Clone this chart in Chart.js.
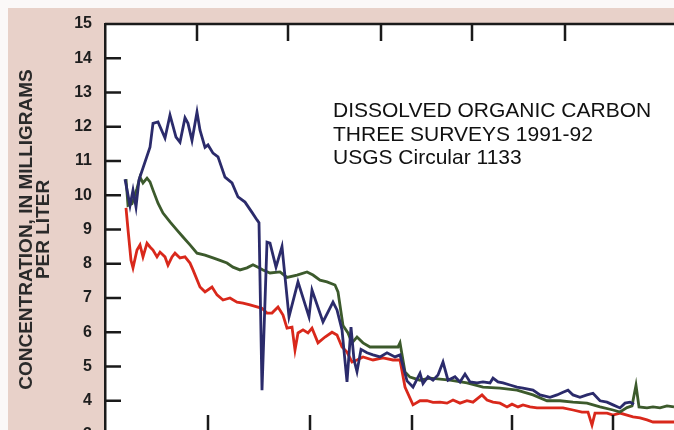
<!DOCTYPE html>
<html>
<head>
<meta charset="utf-8">
<script src="https://cdn.jsdelivr.net/npm/chart.js@4.4.1/dist/chart.umd.min.js"></script>
<style>
  html, body { margin: 0; padding: 0; background: #fff; }
  #wrap { width: 674px; height: 430px; overflow: hidden; position: relative; }
  canvas { display: block; }
</style>
</head>
<body>
<div id="wrap"><canvas id="doc" width="674" height="460"></canvas></div>
<script>
// distance along the river (arbitrary units, left edge = 0) and DOC values in mg/L
const blueX = [20, 25, 28, 31, 34, 45, 48, 53, 60, 65, 71, 75, 80, 83, 87, 92, 95, 100, 103, 108, 113, 120, 127, 133, 140, 147, 152, 154,
  157, 162, 165, 171, 177, 184, 193, 204, 207, 218, 228, 232, 237, 242, 246, 249, 252, 256, 262, 268, 275, 282, 290, 295,
  302, 308, 315, 318, 323, 328, 333, 338, 343, 350, 355, 360, 365, 372, 378, 385, 388, 393, 398, 405, 412, 418, 428, 435,
  445, 452, 458, 463, 468, 475, 482, 488, 495, 502, 508, 515, 520, 525, 529];
const blueY = [10.47, 9.7, 10.15, 9.66, 10.45, 11.4, 12.1, 12.14, 11.67, 12.34, 11.7, 11.55, 12.26, 12.1, 11.6, 12.43, 11.9, 11.4, 11.47, 11.23, 11.12, 10.53, 10.36, 9.95, 9.8, 9.5, 9.28, 9.2,
  4.31, 8.63, 8.6, 7.9, 8.5, 6.45, 7.47, 6.45, 7.23, 6.3, 6.88, 6.65, 6.07, 4.55, 6.15, 5.2, 4.85, 5.5, 5.4, 5.34, 5.28, 5.4, 5.28, 5.34,
  4.58, 4.4, 4.8, 4.5, 4.7, 4.6, 4.75, 5.13, 4.6, 4.7, 4.55, 4.78, 4.55, 4.52, 4.55, 4.52, 4.66, 4.55, 4.52, 4.46, 4.4, 4.37, 4.31, 4.17,
  4.1, 4.17, 4.25, 4.31, 4.17, 4.1, 4.17, 4.22, 4.0, 3.96, 3.88, 3.79, 3.93, 3.96, 3.9];

const greenX = [21, 23, 27, 32, 35, 38, 42, 45, 48, 53, 58, 65, 72, 78, 85, 92, 100, 108, 115, 122, 128, 135, 142, 148, 153, 158,
  165, 175, 182, 192, 202, 208, 215, 222, 230, 233, 238, 243, 247, 252, 258, 265, 272, 282, 293, 295, 300, 305, 315, 325,
  345, 362, 378, 395, 412, 428, 442, 455, 468, 482, 495, 508, 515, 522, 527, 531, 534, 542, 548, 555, 562, 569];
const greenY = [10.47, 9.7, 9.75, 10.2, 10.53, 10.36, 10.5, 10.39, 10.15, 9.77, 9.48, 9.22, 8.98, 8.78, 8.55, 8.31, 8.25, 8.17, 8.1, 8.02, 7.9, 7.82, 7.88, 7.97, 7.9, 7.82,
  7.73, 7.76, 7.6, 7.67, 7.76, 7.67, 7.52, 7.47, 7.38, 7.18, 6.2, 5.98, 5.69, 5.86, 5.69, 5.57, 5.57, 5.57, 5.57, 5.69, 4.84, 4.69, 4.6, 4.66,
  4.6, 4.52, 4.4, 4.37, 4.31, 4.17, 4.0, 4.0, 3.96, 3.93, 3.82, 3.73, 3.67, 3.8, 3.85, 4.45, 3.82, 3.79, 3.82, 3.79, 3.85, 3.82];

const redX = [21, 23, 26, 28, 32, 35, 38, 42, 45, 48, 52, 55, 60, 63, 67, 70, 75, 80, 85, 88, 95, 100, 107, 112, 118, 125, 132, 138,
  145, 152, 157, 162, 167, 173, 178, 182, 187, 190, 193, 198, 203, 207, 213, 220, 227, 232, 237, 242, 247, 252, 258, 268,
  278, 288, 295, 300, 308, 315, 322, 328, 335, 342, 348, 355, 362, 368, 377, 382, 388, 395, 402, 407, 413, 418, 425, 432,
  448, 458, 468, 477, 483, 487, 490, 495, 502, 508, 515, 522, 528, 535, 542, 548, 569];
const redY = [9.63, 9.0, 8.1, 7.88, 8.4, 8.55, 8.2, 8.6, 8.49, 8.4, 8.2, 8.34, 8.2, 7.96, 8.2, 8.31, 8.17, 8.2, 8.02, 7.82, 7.32, 7.18, 7.32, 7.09, 6.94, 7.0, 6.88, 6.85,
  6.8, 6.74, 6.7, 6.56, 6.56, 6.74, 6.5, 6.12, 6.15, 5.48, 5.98, 6.07, 5.98, 6.12, 5.69, 5.86, 6.0, 5.92, 5.57, 5.42, 5.13, 5.19, 5.28, 5.19,
  5.25, 5.19, 5.19, 4.4, 3.88, 4.0, 4.0, 3.95, 3.96, 3.93, 4.02, 3.93, 4.0, 3.96, 4.17, 4.02, 3.96, 3.93, 3.82, 3.9, 3.82, 3.88, 3.82, 3.79,
  3.79, 3.79, 3.73, 3.67, 3.67, 3.29, 3.64, 3.64, 3.64, 3.58, 3.64, 3.58, 3.53, 3.5, 3.44, 3.38, 3.38];

const yTicks = [3, 4, 5, 6, 7, 8, 9, 10, 11, 12, 13, 14, 15];
const bottomTicks = [103, 205, 307, 407, 508];
const topTicks = [92, 183, 276, 367, 460];
const noteLines = ['DISSOLVED ORGANIC CARBON', 'THREE SURVEYS 1991-92', 'USGS Circular 1133'];

function pts(xs, ys) {
  return xs.map((x, i) => ({ x: x, y: ys[i] }));
}

const pink = '#e8d1c9';

const paperPlugin = {
  id: 'paper',
  beforeDraw(chart) {
    const { ctx, chartArea: a } = chart;
    ctx.save();
    ctx.fillStyle = '#fbf8f8';
    ctx.fillRect(0, 0, chart.width, chart.height);
    ctx.fillStyle = pink;
    ctx.fillRect(8, 8, chart.width - 8, chart.height - 8);
    ctx.fillStyle = '#ffffff';
    ctx.fillRect(a.left, a.top, a.right - a.left, a.bottom - a.top);
    ctx.restore();
  },
  afterDraw(chart) {
    const { ctx, chartArea: a } = chart;
    const xs = chart.scales.x, ys = chart.scales.y;
    ctx.save();
    ctx.strokeStyle = '#1a1a1a';
    ctx.lineWidth = 2.5;
    ctx.beginPath();
    // top and bottom axis lines
    ctx.moveTo(a.left, a.top); ctx.lineTo(a.right, a.top);
    ctx.moveTo(a.left, a.bottom); ctx.lineTo(a.right, a.bottom);
    // inward ticks
    yTicks.forEach(v => {
      const y = ys.getPixelForValue(v);
      ctx.moveTo(a.left, y); ctx.lineTo(a.left + 16, y);
    });
    topTicks.forEach(v => {
      const x = xs.getPixelForValue(v);
      ctx.moveTo(x, a.top); ctx.lineTo(x, a.top + 17);
    });
    bottomTicks.forEach(v => {
      const x = xs.getPixelForValue(v);
      ctx.moveTo(x, a.bottom); ctx.lineTo(x, a.bottom - 20);
    });
    ctx.stroke();

    ctx.fillStyle = '#111';
    ctx.font = '21px "Liberation Sans", Arial, sans-serif';
    ctx.textBaseline = 'alphabetic';
    const nx = xs.getPixelForValue(228);
    [117, 141, 164].forEach((b, i) => ctx.fillText(noteLines[i], nx, b));
    ctx.restore();
  }
};

new Chart(document.getElementById('doc'), {
  type: 'line',
  data: {
    datasets: [
      { label: 'Survey 1', data: pts(blueX, blueY), borderColor: '#2b2b6b', borderWidth: 2.8 },
      { label: 'Survey 2', data: pts(greenX, greenY), borderColor: '#3c5a2c', borderWidth: 2.8 },
      { label: 'Survey 3', data: pts(redX, redY), borderColor: '#d9281b', borderWidth: 2.8 }
    ]
  },
  options: {
    responsive: false,
    animation: false,
    elements: { point: { radius: 0 }, line: { tension: 0 } },
    layout: { padding: { top: 24, bottom: 25, left: 0, right: 0 } },
    plugins: { legend: { display: false }, tooltip: { enabled: false } },
    scales: {
      x: {
        type: 'linear',
        display: false,
        min: 0,
        max: 569
      },
      y: {
        min: 3,
        max: 15,
        afterFit: s => { s.width = 105; },
        afterBuildTicks: s => { s.ticks = yTicks.map(v => ({ value: v })); },
        grid: { display: false, drawTicks: false },
        border: { display: true, color: '#1a1a1a', width: 2.5 },
        ticks: {
          padding: 13,
          color: '#1e1e1e',
          font: { family: '"Liberation Sans", Arial, sans-serif', size: 16, weight: 'bold' }
        },
        title: {
          display: true,
          text: ['CONCENTRATION, IN MILLIGRAMS', 'PER LITER'],
          color: '#2a2a2a',
          padding: { top: 19, bottom: 0 },
          font: { family: '"Liberation Sans", Arial, sans-serif', size: 19, weight: 'bold', lineHeight: 0.86 }
        }
      }
    }
  },
  plugins: [paperPlugin]
});
</script>
</body>
</html>
